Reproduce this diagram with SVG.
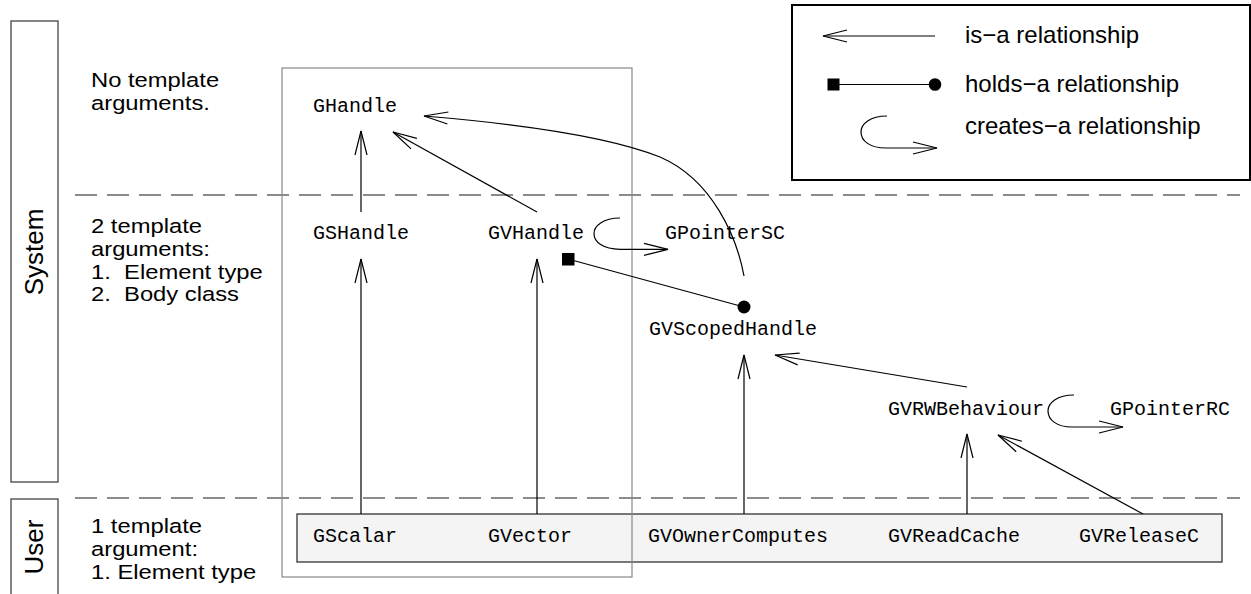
<svg xmlns="http://www.w3.org/2000/svg" width="1251" height="594" viewBox="0 0 1251 594">
<style>
.mono{font-family:"Liberation Mono","Courier New",monospace;font-size:20px;fill:#000}
.sans{font-family:"Liberation Sans",Arial,sans-serif;font-size:20.5px;fill:#000;white-space:pre}
.leg{font-family:"Liberation Sans",Arial,sans-serif;font-size:24px;fill:#000}
.lane{font-family:"Liberation Sans",Arial,sans-serif;font-size:26px;fill:#000}
.dash{stroke:#666;stroke-width:1.3;stroke-dasharray:22 10;fill:none}
.conn{stroke:#000;stroke-width:1.2;fill:none}
</style>
<defs>
<marker id="open" markerUnits="userSpaceOnUse" markerWidth="30" markerHeight="16" refX="24" refY="7" orient="auto" overflow="visible">
<path d="M0,1 L24,7 L0,13" fill="none" stroke="#000" stroke-width="1.2"/>
</marker>
</defs>
<rect width="1251" height="594" fill="#fff"/>

<g id="lanes">
<rect x="11" y="21" width="47" height="461" fill="none" stroke="#444" stroke-width="1.3"/>
<text class="lane" transform="translate(43,252) rotate(-90)" text-anchor="middle">System</text>
<rect x="11" y="499" width="47" height="110" fill="none" stroke="#444" stroke-width="1.3"/>
<text class="lane" transform="translate(43,547) rotate(-90)" text-anchor="middle">User</text>
<line class="dash" x1="75" y1="195" x2="1240" y2="195"/>
<line class="dash" x1="75" y1="498" x2="1240" y2="498"/>
</g>

<g id="descriptions">
<text class="sans" transform="translate(91,87) scale(1.16,1)">No template</text>
<text class="sans" transform="translate(91,110) scale(1.16,1)">arguments.</text>
<text class="sans" transform="translate(91,233) scale(1.16,1)">2 template</text>
<text class="sans" transform="translate(91,256) scale(1.16,1)">arguments:</text>
<text class="sans" transform="translate(91,278.5) scale(1.16,1)">1.  Element type</text>
<text class="sans" transform="translate(91,301) scale(1.16,1)">2.  Body class</text>
<text class="sans" transform="translate(91,533) scale(1.16,1)">1 template</text>
<text class="sans" transform="translate(91,556) scale(1.16,1)">argument:</text>
<text class="sans" transform="translate(91,579) scale(1.16,1)">1. Element type</text>
</g>

<g id="user-box">
<rect x="297" y="514" width="925" height="48" fill="#f4f4f4" stroke="#333" stroke-width="1.3"/>
</g>

<g id="group-box">
<rect x="282" y="68" width="350" height="509" fill="none" stroke="#888" stroke-width="1.2"/>
</g>

<g id="legend">
<rect x="792" y="5" width="458" height="175" fill="#fff" stroke="#000" stroke-width="2"/>
<line class="conn" x1="935" y1="36" x2="823" y2="36" marker-end="url(#open)"/>
<rect x="827.5" y="78.5" width="12" height="12" fill="#000"/>
<line class="conn" x1="834" y1="84.5" x2="935" y2="84.5"/>
<circle cx="935" cy="84.5" r="6.3" fill="#000"/>
<path class="conn" d="M887,116 C870,116 861,124 861,132 C861,141 870,148 886,148 L937,148" marker-end="url(#open)"/>
<text class="leg" x="965" y="43">is−a relationship</text>
<text class="leg" x="965" y="92">holds−a relationship</text>
<text class="leg" x="965" y="134">creates−a relationship</text>
</g>

<g id="connectors">
<line class="conn" x1="361" y1="212" x2="361" y2="131" marker-end="url(#open)"/>
<line class="conn" x1="537" y1="212" x2="393" y2="132" marker-end="url(#open)"/>
<path class="conn" d="M744,276 C737,238 713,180 660,157 C610,137 520,124 424,116" marker-end="url(#open)"/>
<line class="conn" x1="361" y1="514" x2="361" y2="259" marker-end="url(#open)"/>
<line class="conn" x1="537" y1="514" x2="537" y2="259" marker-end="url(#open)"/>
<path class="conn" d="M620,218 C603,218 594,226 594,233.5 C594,242 603,249.3 620,249.3 L668,249.3" marker-end="url(#open)"/>
<rect x="562" y="253" width="12.5" height="12.5" fill="#000"/>
<line class="conn" x1="568" y1="259" x2="744" y2="307"/>
<circle cx="744" cy="307" r="6.5" fill="#000"/>
<line class="conn" x1="744" y1="514" x2="744" y2="355" marker-end="url(#open)"/>
<line class="conn" x1="967" y1="387" x2="775" y2="355" marker-end="url(#open)"/>
<line class="conn" x1="967" y1="514" x2="967" y2="434" marker-end="url(#open)"/>
<line class="conn" x1="1143" y1="514" x2="998" y2="435" marker-end="url(#open)"/>
<path class="conn" d="M1074,395 C1057,395 1048,403 1048,411 C1048,420 1057,427 1072,427 L1123,427" marker-end="url(#open)"/>
</g>

<g id="GHandle"><text class="mono" x="313" y="112">GHandle</text></g>
<g id="GSHandle"><text class="mono" x="313" y="239">GSHandle</text></g>
<g id="GVHandle"><text class="mono" x="488" y="239">GVHandle</text></g>
<g id="GPointerSC"><text class="mono" x="665" y="239">GPointerSC</text></g>
<g id="GVScopedHandle"><text class="mono" x="649" y="335">GVScopedHandle</text></g>
<g id="GVRWBehaviour"><text class="mono" x="888" y="415">GVRWBehaviour</text></g>
<g id="GPointerRC"><text class="mono" x="1110" y="415">GPointerRC</text></g>
<g id="GScalar"><text class="mono" x="313" y="542">GScalar</text></g>
<g id="GVector"><text class="mono" x="488" y="542">GVector</text></g>
<g id="GVOwnerComputes"><text class="mono" x="648" y="542">GVOwnerComputes</text></g>
<g id="GVReadCache"><text class="mono" x="888" y="542">GVReadCache</text></g>
<g id="GVReleaseC"><text class="mono" x="1079" y="542">GVReleaseC</text></g>
</svg>
